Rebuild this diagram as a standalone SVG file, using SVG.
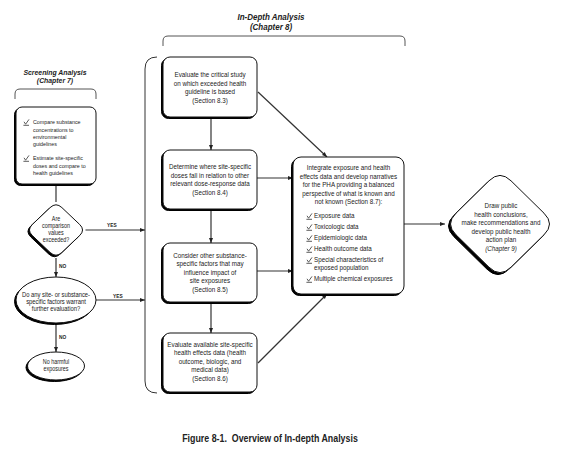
<svg xmlns="http://www.w3.org/2000/svg" xmlns:xlink="http://www.w3.org/1999/xlink" width="569" height="455" viewBox="0 0 569 455">
<style>
text{font-family:"Liberation Sans",Arial,sans-serif;fill:#222;}
.t{font-size:7.3px;text-anchor:middle;}
.ts{font-size:6.2px;}
.td{font-size:6.3px;text-anchor:middle;}
.te{font-size:6.8px;text-anchor:middle;}
.ti{font-size:7.3px;}
.h{font-weight:bold;font-style:italic;text-anchor:middle;}
.lbl{font-size:5.6px;font-weight:bold;}
.box{fill:#fff;stroke:#111;stroke-width:1;}
.sh{fill:#000;stroke:#000;stroke-width:1;}
.br{fill:none;stroke:#555;stroke-width:1;}
.ln{fill:none;stroke:#333;stroke-width:1.2;}
.chk{fill:none;stroke:#333;stroke-width:0.8;}
</style>
<defs>
<marker id="ah" viewBox="0 0 10 10" refX="10" refY="5" markerWidth="5" markerHeight="5" orient="auto" markerUnits="userSpaceOnUse">
<path d="M0,1 L10,5 L0,9 Z" fill="#222"/>
</marker>
<path id="chk" d="M0,-2.2 L1.6,0.2 L5,-4.6 M-0.6,1.3 H5"/>
</defs>

<g id="titles">
<g transform="matrix(0.86 0 0 1 7.7 0)">
<text class="h" x="55" y="75" font-size="8">Screening Analysis</text>
<text class="h" x="55" y="83.5" font-size="8">(Chapter 7)</text>
</g>
<g transform="matrix(0.86 0 0 1 37.94 0)">
<text class="h" x="271" y="20" font-size="9.3">In-Depth Analysis</text>
<text class="h" x="271" y="30" font-size="9.3">(Chapter 8)</text>
</g>
<path class="br" d="M15,99 V94 Q15,89 20,89 H91 Q96,89 96,94 V99"/>
<path class="br" d="M163,46 V41 Q163,36 168,36 H400 Q405,36 405,41 V46"/>
<path class="br" style="stroke:#333" d="M157,57 Q145,57 145,69 V381 Q145,393 157,393"/>
</g>

<g id="connectors">
<path class="ln" d="M56,184 V202"/>
<path class="ln" d="M85.5,230 H145" marker-end="url(#ah)"/>
<path class="ln" d="M56,258 V277" marker-end="url(#ah)"/>
<path class="ln" d="M96,300 H145" marker-end="url(#ah)"/>
<path class="ln" d="M56,323 V352" marker-end="url(#ah)"/>
<path class="ln" d="M211,117 V150" marker-end="url(#ah)"/>
<path class="ln" d="M211,209 V243" marker-end="url(#ah)"/>
<path class="ln" d="M211,302 V333" marker-end="url(#ah)"/>
<path class="ln" d="M257,178 H293" marker-end="url(#ah)"/>
<path class="ln" d="M257,271 H293" marker-end="url(#ah)"/>
<path class="ln" d="M258,92 L327,157" marker-end="url(#ah)"/>
<path class="ln" d="M258,363 L327,294" marker-end="url(#ah)"/>
<path class="ln" d="M404,224 H445" marker-end="url(#ah)"/>
<text class="lbl" x="107" y="227" transform="matrix(0.86 0 0 1 14.98 0)">YES</text>
<text class="lbl" x="113" y="298" transform="matrix(0.86 0 0 1 15.82 0)">YES</text>
<text class="lbl" x="59" y="268.5" transform="matrix(0.86 0 0 1 8.26 0)">NO</text>
<text class="lbl" x="59" y="339" transform="matrix(0.86 0 0 1 8.26 0)">NO</text>
</g>

<g id="screen-box">
<rect class="sh" x="14.5" y="108.5" width="80" height="77" rx="6"/>
<rect class="box" x="16" y="107" width="80" height="77" rx="6"/>
<use xlink:href="#chk" class="chk" x="24" y="124"/>
<use xlink:href="#chk" class="chk" x="24" y="160"/>
<g transform="matrix(0.86 0 0 1 4.62 0)">
<text class="ts" x="33" y="124.5">Compare substance</text>
<text class="ts" x="33" y="131.7">concentrations to</text>
<text class="ts" x="33" y="138.9">environmental</text>
<text class="ts" x="33" y="146.1">guidelines</text>
<text class="ts" x="33" y="160.5">Estimate site-specific</text>
<text class="ts" x="33" y="167.7">doses and compare to</text>
<text class="ts" x="33" y="174.9">health guidelines</text>
</g>
</g>

<g id="screen-diamond">
<path class="sh" transform="translate(-1.5,1.5)" d="M50.1,207.6 Q56,202 61.9,207.6 L79.6,224.4 Q85.5,230 79.6,235.6 L61.9,252.4 Q56,258 50.1,252.4 L32.4,235.6 Q26.5,230 32.4,224.4 Z"/>
<path class="box" d="M50.1,207.6 Q56,202 61.9,207.6 L79.6,224.4 Q85.5,230 79.6,235.6 L61.9,252.4 Q56,258 50.1,252.4 L32.4,235.6 Q26.5,230 32.4,224.4 Z"/>
<g transform="matrix(0.86 0 0 1 7.84 0)">
<text class="td" x="56" y="221">Are</text>
<text class="td" x="56" y="228">comparison</text>
<text class="td" x="56" y="235">values</text>
<text class="td" x="56" y="242">exceeded?</text>
</g>
</g>

<g id="screen-ellipse">
<ellipse class="sh" cx="54.5" cy="301.5" rx="40" ry="23"/>
<ellipse class="box" cx="56" cy="300" rx="40" ry="23"/>
<g transform="matrix(0.86 0 0 1 7.84 0)">
<text class="te" x="56" y="297.5">Do any site- or substance-</text>
<text class="te" x="56" y="304.5">specific factors warrant</text>
<text class="te" x="56" y="311.5">further evaluation?</text>
</g>
</g>

<g id="no-harm">
<ellipse class="sh" cx="54.5" cy="367.5" rx="28.5" ry="14"/>
<ellipse class="box" cx="56" cy="366" rx="28.5" ry="14"/>
<g transform="matrix(0.86 0 0 1 7.84 0)">
<text class="td" x="56" y="364">No harmful</text>
<text class="td" x="56" y="371">exposures</text>
</g>
</g>

<g id="box-8-3">
<rect class="sh" x="161.5" y="58.5" width="94" height="60" rx="7"/>
<rect class="box" x="163" y="57" width="94" height="60" rx="7"/>
<g transform="matrix(0.86 0 0 1 29.4 0)">
<text class="t" x="210" y="77.5">Evaluate the critical study</text>
<text class="t" x="210" y="86">on which exceeded health</text>
<text class="t" x="210" y="94.5">guideline is based</text>
<text class="t" x="210" y="103">(Section 8.3)</text>
</g>
</g>

<g id="box-8-4">
<rect class="sh" x="161.5" y="151.5" width="94" height="59" rx="7"/>
<rect class="box" x="163" y="150" width="94" height="59" rx="7"/>
<g transform="matrix(0.86 0 0 1 29.4 0)">
<text class="t" x="210" y="169.5">Determine where site-specific</text>
<text class="t" x="210" y="178">doses fall in relation to other</text>
<text class="t" x="210" y="186.5">relevant dose-response data</text>
<text class="t" x="210" y="195">(Section 8.4)</text>
</g>
</g>

<g id="box-8-5">
<rect class="sh" x="161.5" y="244.5" width="94" height="59" rx="7"/>
<rect class="box" x="163" y="243" width="94" height="59" rx="7"/>
<g transform="matrix(0.86 0 0 1 29.4 0)">
<text class="t" x="210" y="258">Consider other substance-</text>
<text class="t" x="210" y="266.5">specific factors that may</text>
<text class="t" x="210" y="275">influence impact of</text>
<text class="t" x="210" y="283.3">site exposures</text>
<text class="t" x="210" y="291.6">(Section 8.5)</text>
</g>
</g>

<g id="box-8-6">
<rect class="sh" x="161.5" y="334.5" width="94" height="59" rx="7"/>
<rect class="box" x="163" y="333" width="94" height="59" rx="7"/>
<g transform="matrix(0.86 0 0 1 29.4 0)">
<text class="t" x="210" y="347">Evaluate available site-specific</text>
<text class="t" x="210" y="355.5">health effects data (health</text>
<text class="t" x="210" y="364">outcome, biologic, and</text>
<text class="t" x="210" y="372.5">medical data)</text>
<text class="t" x="210" y="381">(Section 8.6)</text>
</g>
</g>

<g id="box-8-7">
<rect class="sh" x="291.5" y="158.5" width="111" height="137" rx="8"/>
<rect class="box" x="293" y="157" width="111" height="137" rx="8"/>
<g transform="matrix(0.86 0 0 1 48.79 0)">
<text class="t" x="348.5" y="170.5">Integrate exposure and health</text>
<text class="t" x="348.5" y="179">effects data and develop narratives</text>
<text class="t" x="348.5" y="187.5">for the PHA providing a balanced</text>
<text class="t" x="348.5" y="196">perspective of what is known and</text>
<text class="t" x="348.5" y="204.5">not known (Section 8.7):</text>
</g>
<use xlink:href="#chk" class="chk" x="307" y="218"/>
<use xlink:href="#chk" class="chk" x="307" y="229"/>
<use xlink:href="#chk" class="chk" x="307" y="240"/>
<use xlink:href="#chk" class="chk" x="307" y="251"/>
<use xlink:href="#chk" class="chk" x="307" y="262"/>
<use xlink:href="#chk" class="chk" x="307" y="281"/>
<g transform="matrix(0.86 0 0 1 43.96 0)">
<text class="ti" x="314" y="218.5">Exposure data</text>
<text class="ti" x="314" y="229.5">Toxicologic data</text>
<text class="ti" x="314" y="240.5">Epidemiologic data</text>
<text class="ti" x="314" y="251.5">Health outcome data</text>
<text class="ti" x="314" y="262.5">Special characteristics of</text>
<text class="ti" x="314" y="270.5">exposed population</text>
<text class="ti" x="314" y="281.5">Multiple chemical exposures</text>
</g>
</g>

<g id="conclusions">
<path class="sh" transform="translate(-2,2)" d="M489,180.8 Q500,170 511,180.8 L544,213.2 Q555,224 544,234.8 L511,267.2 Q500,278 489,267.2 L456,234.8 Q445,224 456,213.2 Z"/>
<path class="box" d="M489,180.8 Q500,170 511,180.8 L544,213.2 Q555,224 544,234.8 L511,267.2 Q500,278 489,267.2 L456,234.8 Q445,224 456,213.2 Z"/>
<g transform="matrix(0.86 0 0 1 70.14 0)">
<text class="t" x="501" y="208">Draw public</text>
<text class="t" x="501" y="217">health conclusions,</text>
<text class="t" x="501" y="225.5">make recommendations and</text>
<text class="t" x="501" y="234">develop public health</text>
<text class="t" x="501" y="242.5">action plan</text>
<text class="t" x="501" y="251" font-style="italic">(Chapter 9)</text>
</g>
</g>

<text x="270" y="442" font-size="10.3" font-weight="bold" text-anchor="middle" xml:space="preserve" transform="matrix(0.86 0 0 1 37.8 0)">Figure 8-1.  Overview of In-depth Analysis</text>
</svg>
